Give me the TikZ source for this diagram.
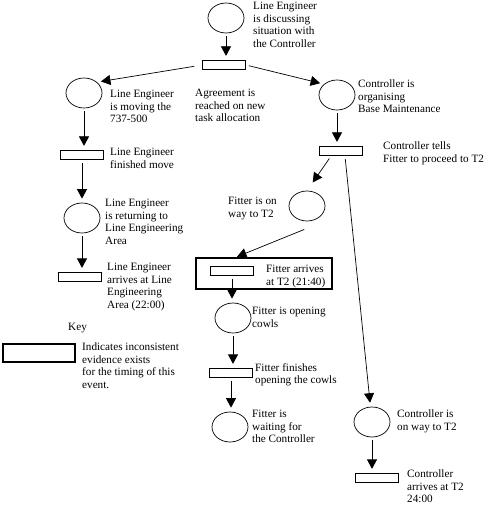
\documentclass[tikz,border=0pt]{standalone}
\usepackage{fontspec}
\setmainfont{Liberation Serif}
\usetikzlibrary{shapes.geometric,arrows.meta}
\tikzstyle{place}=[ellipse,minimum width=36pt,minimum height=30pt,inner sep=0pt,draw=black,line width=0.7pt]
\tikzstyle{transition}=[rectangle,minimum width=43pt,minimum height=9.5pt,inner sep=0pt,draw=black,line width=0.7pt]
\tikzstyle{inconsistent}=[rectangle,inner sep=0pt,draw=black,line width=2.5pt]
\tikzstyle{lbl}=[anchor=north west,inner sep=0pt,align=left,font=\fontsize{11.2pt}{12.5pt}\selectfont]
\tikzstyle{arrow}=[line width=0.7pt,-{Triangle[length=9.5pt,width=10pt]},shorten <=3pt,shorten >=4pt]

\begin{document}
\begin{tikzpicture}[node distance=56pt]
            \useasboundingbox (-226pt,18pt) rectangle (266pt,-487pt);
            % places and transitions
            \node (p0)[place]{};
            \node (t0)[transition,below of=p0,xshift=-2pt,yshift=9pt]{};
            \node (p1)[place,below of=t0,xshift=-140pt,yshift=28pt]{};
            \node (t1)[transition,below of=p1,xshift=-2pt,yshift=-6pt]{};
            \node (p2)[place,below of=t1,xshift=0pt,yshift=-7pt]{};
            \node (t2)[transition,below of=p2,xshift=-2pt,yshift=-3pt]{};
            \node (p3)[place,below of=t0,xshift=113pt,yshift=26pt]{};
            \node (t3)[transition,below of=p3,xshift=4pt,yshift=0pt]{};
            \node (p4)[place,below of=t3,xshift=-34pt,yshift=1pt]{};
            \node (frame)[inconsistent,minimum width=136pt,minimum height=31pt,below of=p4,xshift=-43pt,yshift=-11.5pt]{};
            \node (t4)[transition,below of=p4,xshift=-75pt,yshift=-9pt]{};
            \node (p5)[place,below of=t4,xshift=1pt,yshift=9pt]{};
            \node (t5)[transition,below of=p5,xshift=-2pt,yshift=1pt]{};
            \node (p6)[place,below of=t5,xshift=-1pt,yshift=2pt]{};
            \node (p7)[place,right of=p6,xshift=86pt,yshift=5pt]{};
            \node (t7)[transition,below of=p7,xshift=5pt,yshift=0pt]{};
            \node (keybox)[inconsistent,minimum width=72pt,minimum height=18pt,below of=t2,xshift=-41pt,yshift=-20pt]{};
            % labels
            \node (l0)[right of=p0,lbl,xshift=-29pt,yshift=16pt]{Line Engineer\\is discussing\\situation with\\the Controller};
            \node (la)[right of=t0,lbl,xshift=-85pt,yshift=-24pt]{Agreement is\\reached on new\\task allocation};
            \node (l1)[right of=p1,lbl,xshift=-30pt,yshift=3pt]{Line Engineer\\is moving the\\737-500};
            \node (lt1)[right of=t1,lbl,xshift=-28pt,yshift=7pt]{Line Engineer\\finished move};
            \node (l2)[right of=p2,lbl,xshift=-33pt,yshift=19pt]{Line Engineer\\is returning to\\Line Engineering\\Area};
            \node (lt2)[right of=t2,lbl,xshift=-29pt,yshift=14pt]{Line Engineer\\arrives at Line\\Engineering\\Area (22:00)};
            \node (l3)[right of=p3,lbl,xshift=-35pt,yshift=15pt]{Controller is\\organising\\Base Maintenance};
            \node (lt3)[right of=t3,lbl,xshift=-14pt,yshift=9pt]{Controller tells\\Fitter to proceed to T2};
            \node (l4)[left of=p4,lbl,xshift=-23pt,yshift=9pt]{Fitter is on\\way to T2};
            \node (lt4)[right of=t4,lbl,xshift=-22pt,yshift=6pt]{Fitter arrives\\at T2 (21:40)};
            \node (l5)[right of=p5,lbl,xshift=-37pt,yshift=11pt]{Fitter is opening\\cowls};
            \node (lt5)[right of=t5,lbl,xshift=-32pt,yshift=10pt]{Fitter finishes\\opening the cowls};
            \node (l6)[right of=p6,lbl,xshift=-34pt,yshift=17pt]{Fitter is\\waiting for\\the Controller};
            \node (l7)[right of=p7,lbl,xshift=-31pt,yshift=12pt]{Controller is\\on way to T2};
            \node (lt7)[right of=t7,lbl,xshift=-26pt,yshift=8pt]{Controller\\arrives at T2\\24:00};
            \node (lkey)[right of=keybox,lbl,xshift=-27pt,yshift=30pt]{Key};
            \node (lk)[right of=keybox,lbl,xshift=-13pt,yshift=10pt]{Indicates inconsistent\\evidence exists\\for the timing of this\\event.};
            % arcs
            \draw [arrow] (p0) -- (p0 |- t0.north);
            \draw [arrow,shorten <=8pt] (t0.west) -- (p1.north east);
            \draw [arrow] (t0.east) -- (p3.north west);
            \draw [arrow] (p1) -- (p1 |- t1.north);
            \draw [arrow] (t1) -- (t1 |- p2.north);
            \draw [arrow] (p2) -- (p2 |- t2.north);
            \draw [arrow] (p3) -- (p3 |- t3.north);
            \draw [arrow,shorten >=10pt] ([xshift=-10pt]t3.south) -- (p4.north);
            \draw [arrow] ([xshift=4pt]t3.south) -- (p7);
            \draw [arrow,shorten >=0pt] ([yshift=-7pt]p4.south) -- ([xshift=5pt]frame.north -| t4);
            \draw [arrow] (t4) -- (t4 |- p5.north);
            \draw [arrow] (p5) -- (p5 |- t5.north);
            \draw [arrow] (t5) -- (t5 |- p6.north);
            \draw [arrow] (p7) -- (p7 |- t7.north);
        \end{tikzpicture}
\end{document}
